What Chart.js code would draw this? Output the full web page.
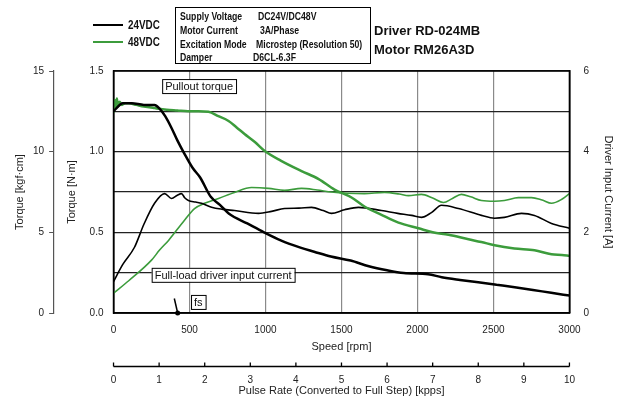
<!DOCTYPE html>
<html>
<head>
<meta charset="utf-8">
<script src="https://cdn.jsdelivr.net/npm/chart.js@4.4.1/dist/chart.umd.min.js"></script>
<style>
  body { margin: 0; background: #fff; }
  #wrap { position: relative; width: 623px; height: 396px; }
  #chart { position: absolute; left: 0; top: 0; }
  .nar { position: absolute; font-family: "Liberation Sans", Arial, sans-serif; font-weight: bold; color: #111; white-space: nowrap; line-height: 1; transform: scaleX(0.79); transform-origin: 0 0; }
  .ttl { position: absolute; font-family: "Liberation Sans", Arial, sans-serif; font-weight: bold; color: #111; font-size: 13px; white-space: nowrap; line-height: 1; }
  .swatch { position: absolute; height: 2px; width: 30px; }
  #info { position: absolute; left: 175px; top: 7px; width: 194px; height: 55px; border: 1px solid #000; }
</style>
</head>
<body>
<div id="wrap">
  <canvas id="chart" width="623" height="396"></canvas>

  <!-- legend -->
  <div class="swatch" style="left:93px; top:24px; background:#000;"></div>
  <div class="nar" style="left:128px; top:19px; font-size:12.5px;">24VDC</div>
  <div class="swatch" style="left:93px; top:41px; background:#3c9c3c;"></div>
  <div class="nar" style="left:128px; top:36px; font-size:12.5px;">48VDC</div>

  <!-- conditions box -->
  <div id="info"></div>
  <div class="nar" style="left:180px; top:11px; font-size:11px;">Supply Voltage</div>
  <div class="nar" style="left:258px; top:11px; font-size:11px;">DC24V/DC48V</div>
  <div class="nar" style="left:180px; top:25px; font-size:11px;">Motor Current</div>
  <div class="nar" style="left:260px; top:25px; font-size:11px;">3A/Phase</div>
  <div class="nar" style="left:180px; top:39px; font-size:11px;">Excitation Mode</div>
  <div class="nar" style="left:256px; top:39px; font-size:11px;">Microstep (Resolution 50)</div>
  <div class="nar" style="left:180px; top:52px; font-size:11px;">Damper</div>
  <div class="nar" style="left:253px; top:52px; font-size:11px;">D6CL-6.3F</div>

  <div class="ttl" style="left:374px; top:24px;">Driver RD-024MB</div>
  <div class="ttl" style="left:374px; top:43px;">Motor RM26A3D</div>
</div>

<script>
// ---- data ----
// pullout torque, 24 VDC  (speed rpm / torque N·m)
const speedTorque24 = [0, 20, 60, 120, 200, 270, 300, 340, 380, 420, 465, 520, 570, 640, 700, 760, 880, 990, 1100, 1230, 1320, 1430, 1560, 1680, 1800, 1910, 2070, 2160, 2280, 2400, 2520, 2640, 2760, 2880, 3000];
const torque24 = [1.25, 1.27, 1.30, 1.30, 1.29, 1.29, 1.27, 1.22, 1.15, 1.07, 0.99, 0.90, 0.84, 0.72, 0.67, 0.615, 0.555, 0.50, 0.45, 0.405, 0.38, 0.35, 0.325, 0.29, 0.265, 0.248, 0.24, 0.222, 0.205, 0.19, 0.175, 0.16, 0.143, 0.125, 0.108];

// pullout torque, 48 VDC
const speedTorque48 = [0, 8, 15, 22, 30, 40, 55, 75, 100, 150, 200, 270, 350, 420, 490, 560, 625, 690, 757, 810, 862, 930, 993, 1100, 1237, 1350, 1454, 1566, 1651, 1760, 1875, 2007, 2100, 2204, 2336, 2420, 2507, 2638, 2770, 2882, 2950, 3000];
const torque48 = [1.24, 1.32, 1.27, 1.33, 1.28, 1.31, 1.29, 1.30, 1.30, 1.29, 1.28, 1.27, 1.26, 1.255, 1.25, 1.25, 1.247, 1.22, 1.19, 1.15, 1.11, 1.06, 1.006, 0.945, 0.88, 0.83, 0.765, 0.716, 0.66, 0.61, 0.56, 0.525, 0.50, 0.485, 0.457, 0.44, 0.42, 0.40, 0.389, 0.364, 0.36, 0.355];

// full-load driver input current, 24 VDC  (speed rpm / current A)
const speedCurrent24 = [0, 60, 138, 200, 270, 336, 382, 420, 447, 470, 493, 540, 579, 645, 720, 796, 954, 1040, 1125, 1220, 1303, 1380, 1434, 1520, 1612, 1763, 1870, 1961, 2026, 2092, 2158, 2270, 2421, 2507, 2572, 2684, 2770, 2882, 3000];
const current24 = [0.78, 1.2, 1.63, 2.2, 2.72, 2.96, 2.84, 2.92, 2.96, 2.85, 2.79, 2.75, 2.72, 2.62, 2.57, 2.54, 2.47, 2.52, 2.59, 2.60, 2.62, 2.54, 2.47, 2.56, 2.62, 2.54, 2.47, 2.42, 2.37, 2.49, 2.67, 2.59, 2.42, 2.35, 2.37, 2.47, 2.42, 2.22, 2.10];

// full-load driver input current, 48 VDC
const speedCurrent48 = [0, 100, 250, 303, 362, 467, 533, 599, 691, 796, 908, 1020, 1125, 1237, 1340, 1434, 1540, 1651, 1783, 1880, 1941, 2026, 2100, 2171, 2230, 2289, 2350, 2421, 2507, 2572, 2664, 2750, 2820, 2882, 2950, 3000];
const current48 = [0.49, 0.8, 1.31, 1.56, 1.80, 2.30, 2.59, 2.72, 2.84, 2.99, 3.11, 3.09, 3.04, 3.09, 3.05, 3.00, 2.97, 2.96, 2.99, 2.95, 2.91, 2.94, 2.85, 2.74, 2.84, 2.94, 2.88, 2.79, 2.77, 2.79, 2.86, 2.86, 2.80, 2.72, 2.82, 2.96];

// fs (maximum starting frequency) marker
const fsSpeed = [400, 422];
const fsTorque = [0.09, 0];

// axis ranges
const speedMax = 3000;
const pulseMax = 10;      // kpps
const torqueMax = 1.5;    // N·m
const kgfMax = 15;        // kgf·cm
const currentMax = 6;     // A

const GREEN = '#3c9c3c';
const AXIS_FONT = { family: 'Liberation Sans, Arial, sans-serif', size: 10, lineHeight: 1 };
const TITLE_FONT = { family: 'Liberation Sans, Arial, sans-serif', size: 11, lineHeight: 1 };

function toPoints(xs, ys) {
    return xs.map((x, i) => ({ x: x, y: ys[i] }));
}

// frame around the plot, the pulse-rate axis line with upward ticks, and the boxed notes
const notesPlugin = {
    id: 'notes',
    afterDatasetsDraw(chart) {
        const ctx = chart.ctx;
        const a = chart.chartArea;
        const xs = chart.scales.x;
        const ys = chart.scales.y;
        const x2 = chart.scales.x2;

        ctx.save();
        ctx.strokeStyle = '#000';
        ctx.lineWidth = 1.5;
        ctx.strokeRect(a.left, a.top, a.right - a.left, a.bottom - a.top);

        // secondary speed axis (kpps)
        const ly = Math.round(x2.top) + 0.5;
        ctx.lineWidth = 1.3;
        ctx.beginPath();
        ctx.moveTo(x2.left, ly);
        ctx.lineTo(x2.right, ly);
        x2.ticks.forEach(t => {
            const px = x2.getPixelForValue(t.value);
            ctx.moveTo(px, ly);
            ctx.lineTo(px, ly - 4);
        });
        ctx.stroke();

        const notes = [
            { text: 'Pullout torque', x: 320, y: 1.45 },
            { text: 'Full-load driver input current', x: 251, y: 0.28 },
            { text: 'fs', x: 510, y: 0.112 }
        ];
        ctx.font = '11px Liberation Sans, Arial, sans-serif';
        ctx.textBaseline = 'middle';
        notes.forEach(n => {
            const px = xs.getPixelForValue(n.x);
            const py = ys.getPixelForValue(n.y);
            const w = ctx.measureText(n.text).width + 6;
            const h = 14;
            ctx.fillStyle = '#fff';
            ctx.fillRect(px, py, w, h);
            ctx.lineWidth = 1;
            ctx.strokeStyle = '#000';
            ctx.strokeRect(px + 0.5, py + 0.5, w, h);
            ctx.fillStyle = '#111';
            ctx.fillText(n.text, px + 3, py + h / 2 + 1);
        });
        ctx.restore();
    }
};

new Chart(document.getElementById('chart'), {
    type: 'line',
    data: {
        datasets: [
            { label: '24VDC torque', data: toPoints(speedTorque24, torque24), yAxisID: 'y', borderColor: '#000', borderWidth: 2.5 },
            { label: '48VDC torque', data: toPoints(speedTorque48, torque48), yAxisID: 'y', borderColor: GREEN, borderWidth: 2.5 },
            { label: '24VDC current', data: toPoints(speedCurrent24, current24), yAxisID: 'y1', borderColor: '#000', borderWidth: 1.6 },
            { label: '48VDC current', data: toPoints(speedCurrent48, current48), yAxisID: 'y1', borderColor: GREEN, borderWidth: 1.6 },
            {
                label: 'fs', data: toPoints(fsSpeed, fsTorque), yAxisID: 'y', borderColor: '#000', borderWidth: 1.5,
                pointRadius: [0, 2.5], pointBackgroundColor: '#000', pointBorderWidth: 0, clip: false
            }
        ]
    },
    options: {
        responsive: false,
        animation: false,
        layout: { padding: { top: 71, left: 6, right: 5, bottom: 0 } },
        elements: {
            point: { radius: 0 },
            line: { tension: 0.25, cubicInterpolationMode: 'monotone' }
        },
        plugins: {
            legend: { display: false },
            tooltip: { enabled: false }
        },
        scales: {
            x: {
                type: 'linear', position: 'bottom', weight: 0,
                min: 0, max: speedMax,
                ticks: { stepSize: 500, font: AXIS_FONT, color: '#222', padding: 12, maxRotation: 0, callback: v => String(v) },
                grid: { color: '#8a8a8a', lineWidth: 1.2, drawTicks: false },
                border: { color: '#000', width: 1.5 },
                title: { display: true, text: 'Speed [rpm]', font: TITLE_FONT, color: '#222', padding: { top: -6, bottom: 14 } }
            },
            x2: {
                type: 'linear', position: 'bottom', weight: 1,
                min: 0, max: pulseMax,
                ticks: { stepSize: 1, font: AXIS_FONT, color: '#222', padding: 9, maxRotation: 0 },
                grid: { drawOnChartArea: false, drawTicks: false, display: false },
                border: { display: false },
                title: { display: true, text: 'Pulse Rate (Converted to Full Step) [kpps]', font: TITLE_FONT, color: '#222', padding: { top: -9, bottom: 0 } }
            },
            yk: {
                type: 'linear', position: 'left', weight: 1,
                min: 0, max: kgfMax,
                ticks: { stepSize: 5, font: AXIS_FONT, color: '#222', padding: 5 },
                grid: { drawOnChartArea: false, drawTicks: true, tickLength: 4, color: '#555' },
                border: { color: '#555', width: 1.2 },
                title: { display: true, text: 'Torque [kgf\u00b7cm]', font: TITLE_FONT, color: '#222', padding: { top: 8, bottom: 3 } }
            },
            y: {
                type: 'linear', position: 'left', weight: 0,
                min: 0, max: torqueMax,
                ticks: { stepSize: 0.5, font: AXIS_FONT, color: '#222', padding: 10, callback: v => v.toFixed(1) },
                grid: { drawOnChartArea: false, drawTicks: false },
                border: { color: '#000', width: 1.5 },
                title: { display: true, text: 'Torque [N\u00b7m]', font: TITLE_FONT, color: '#222', padding: { top: 13, bottom: 2.5 } }
            },
            y1: {
                type: 'linear', position: 'right',
                min: 0, max: currentMax,
                ticks: { stepSize: 1, font: AXIS_FONT, color: '#222', padding: 14, callback: v => (v % 2 === 0 ? v : '') },
                grid: { color: '#222', lineWidth: 1.2, drawTicks: false },
                border: { color: '#000', width: 1.5 },
                title: { display: true, text: 'Driver Input Current [A]', font: TITLE_FONT, color: '#222', padding: { top: 4, bottom: 0 } }
            }
        }
    },
    plugins: [notesPlugin]
});
</script>
</body>
</html>
